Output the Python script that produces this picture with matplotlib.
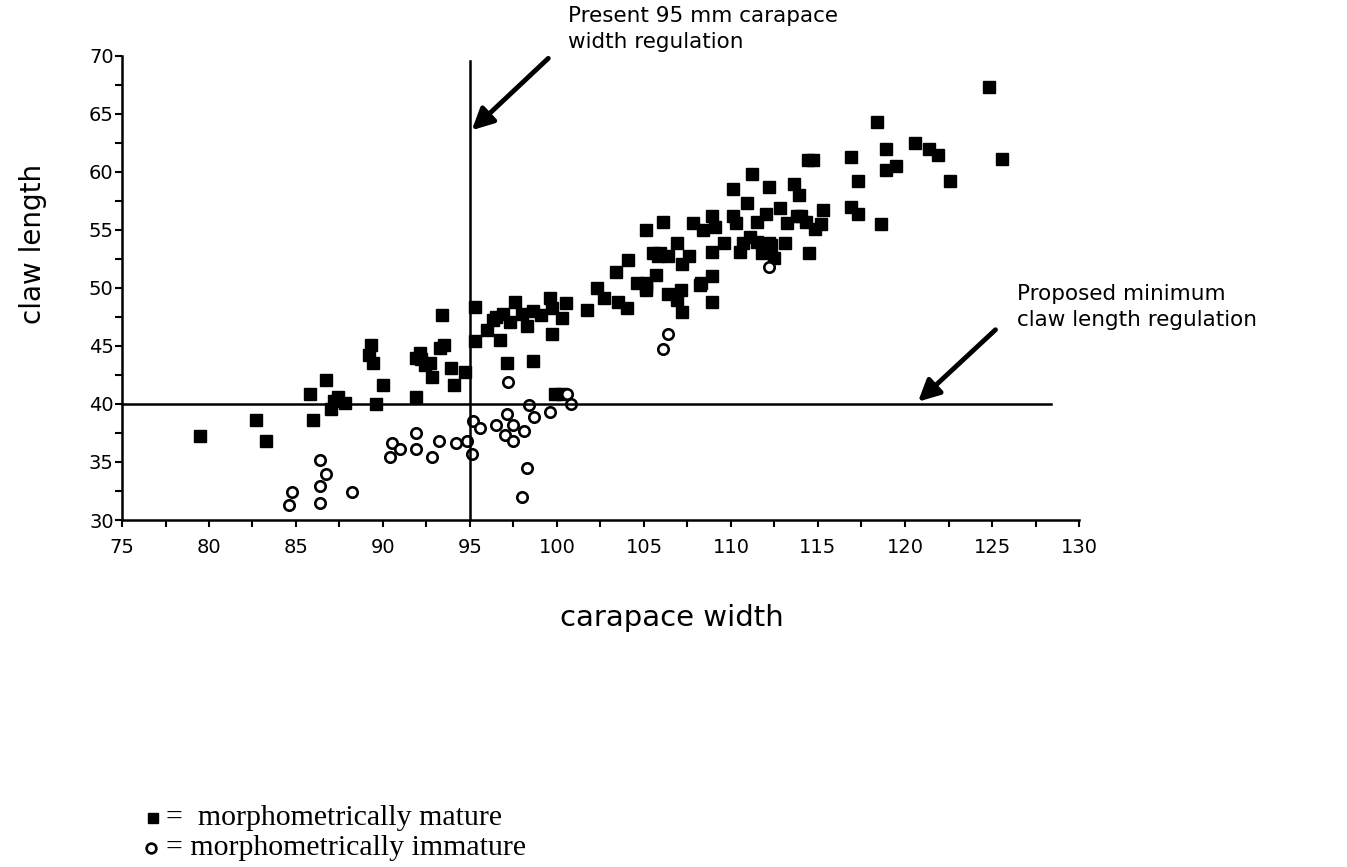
import matplotlib
matplotlib.use("Agg")
import matplotlib.pyplot as plt
from matplotlib.lines import Line2D
from matplotlib.ticker import MultipleLocator

# morphometrically mature crabs (carapace width, claw length)
mature_x = [79.5, 82.7, 83.3, 85.8, 86.0, 86.7, 87.0, 87.2, 87.4, 87.8,
            89.2, 89.3, 89.4, 89.6, 90.0, 91.9, 91.9, 92.1, 92.2, 92.4,
            92.7, 92.8, 93.3, 93.5, 93.4, 93.9, 94.1, 94.7, 95.3, 95.3,
            96.0, 96.3, 96.5, 96.9, 96.7, 97.1, 97.3, 97.6, 98.0, 98.3,
            98.6, 98.6, 99.1, 99.6, 99.7, 99.7, 99.9, 100.3, 100.3, 100.5,
            101.7, 102.3, 102.7, 103.4, 103.5, 104.0, 104.1, 104.6, 105.1, 105.1,
            105.1, 105.1, 105.5, 105.7, 105.8, 105.9, 106.1, 106.4, 106.4, 106.9,
            106.9, 107.1, 107.2, 107.2, 107.6, 107.8, 108.2, 108.3, 108.4, 108.9,
            108.9, 108.9, 108.9, 109.1, 109.6, 110.1, 110.1, 110.3, 110.5, 110.7,
            110.9, 111.1, 111.2, 111.5, 111.5, 111.8, 112.0, 112.2, 112.2, 112.3,
            112.5, 112.8, 113.1, 113.2, 113.6, 113.8, 113.9, 114.0, 114.3, 114.5,
            114.4, 114.8, 114.7, 115.2, 115.3, 116.9, 116.9, 117.3, 117.3, 118.4,
            118.6, 118.9, 118.9, 119.5, 120.6, 121.4, 121.9, 122.6, 124.8, 125.6]
mature_y = [37.2, 38.6, 36.8, 40.9, 38.6, 42.1, 39.6, 40.3, 40.6, 40.1,
            44.2, 45.1, 43.5, 40.0, 41.6, 40.6, 44.0, 44.4, 43.9, 43.4,
            43.5, 42.3, 44.8, 45.1, 47.7, 43.1, 41.6, 42.8, 45.4, 48.4,
            46.4, 47.2, 47.5, 47.8, 45.5, 43.5, 47.1, 48.8, 47.8, 46.7,
            48.0, 43.7, 47.7, 49.1, 48.3, 46.0, 40.9, 40.9, 47.4, 48.7,
            48.1, 50.0, 49.1, 51.4, 48.8, 48.3, 52.4, 50.4, 50.1, 50.4,
            49.8, 55.0, 53.0, 51.1, 52.8, 53.0, 55.7, 52.8, 49.5, 49.0,
            53.9, 49.8, 52.1, 47.9, 52.8, 55.6, 50.3, 50.4, 55.0, 53.1,
            51.0, 48.8, 56.2, 55.3, 53.9, 58.5, 56.2, 55.6, 53.1, 53.9,
            57.3, 54.4, 59.8, 54.0, 55.7, 53.0, 56.4, 58.7, 53.9, 53.7,
            52.6, 56.9, 53.9, 55.6, 59.0, 56.2, 58.0, 56.2, 55.7, 53.0,
            61.0, 55.1, 61.0, 55.5, 56.7, 61.3, 57.0, 56.4, 59.2, 64.3,
            55.5, 62.0, 60.2, 60.5, 62.5, 62.0, 61.5, 59.2, 67.3, 61.1]

# morphometrically immature crabs
immature_x = [84.6, 84.75, 86.4, 86.7, 86.4, 86.4, 88.2, 90.4, 90.5, 91.0,
              91.9, 91.9, 92.8, 93.2, 94.2, 94.8, 95.1, 95.2, 95.6, 96.5,
              97.0, 97.1, 97.2, 97.5, 97.5, 98.0, 98.1, 98.3, 98.4, 98.7,
              99.6, 100.6, 100.8, 106.1, 106.4, 112.2]
immature_y = [31.3, 32.4, 35.2, 34.0, 32.9, 31.5, 32.4, 35.4, 36.6, 36.1,
              37.5, 36.1, 35.4, 36.8, 36.6, 36.8, 35.7, 38.5, 37.9, 38.2,
              37.3, 39.1, 41.9, 38.2, 36.8, 32.0, 37.7, 34.5, 39.9, 38.9,
              39.3, 40.9, 40.0, 44.7, 46.0, 51.8]

# regulation limits
WIDTH_LIMIT = 95
CLAW_LIMIT = 40

W, H = 1347, 867
fig = plt.figure(figsize=(W / 100, H / 100), dpi=100)
ax = fig.add_axes([122 / W, 1 - 520 / H, (1079 - 122) / W, (520 - 56) / H])

ax.plot(mature_x, mature_y, 's', color='black', markersize=8.3, linestyle='none')
ax.plot(immature_x, immature_y, 'o', markerfacecolor='white', markeredgecolor='black',
        markeredgewidth=1.9, markersize=7.5, linestyle='none')

# regulation lines
ax.plot([WIDTH_LIMIT, WIDTH_LIMIT], [30, 69.6], color='black', lw=1.8, clip_on=False)
ax.plot([75, 128.4], [CLAW_LIMIT, CLAW_LIMIT], color='black', lw=1.8, clip_on=False)

ax.set_xlim(75, 130)
ax.set_ylim(30, 70)
ax.xaxis.set_major_locator(MultipleLocator(5))
ax.xaxis.set_minor_locator(MultipleLocator(2.5))
ax.yaxis.set_major_locator(MultipleLocator(5))
ax.yaxis.set_minor_locator(MultipleLocator(2.5))
for side in ['top', 'right']:
    ax.spines[side].set_visible(False)
for side in ['left', 'bottom']:
    ax.spines[side].set_linewidth(1.8)
ax.tick_params(axis='x', which='both', direction='out', length=5, width=1.5,
               labelsize=14, pad=8)
ax.tick_params(axis='y', which='both', direction='out', length=5, width=1.5,
               labelsize=14, pad=1)

# arrows pointing at the regulation lines
ax.annotate('', xy=(95.1, 63.6), xytext=(99.5, 69.8),
            arrowprops=dict(arrowstyle='-|>', lw=3.5, color='black', mutation_scale=32,
                            shrinkA=0, shrinkB=0), annotation_clip=False)
ax.annotate('', xy=(120.75, 40.2), xytext=(125.2, 46.4),
            arrowprops=dict(arrowstyle='-|>', lw=3.5, color='black', mutation_scale=32,
                            shrinkA=0, shrinkB=0), annotation_clip=False)

fig.text(568 / W, 1 - 6 / H, 'Present 95 mm carapace\nwidth regulation',
         fontsize=15.5, va='top', ha='left', linespacing=1.4)
fig.text(1017 / W, 1 - 284 / H, 'Proposed minimum\nclaw length regulation',
         fontsize=15.5, va='top', ha='left', linespacing=1.4)

# axis titles
fig.text(672 / W, 1 - 618 / H, 'carapace width', fontsize=21, ha='center', va='center')
fig.text(33 / W, 1 - 244 / H, 'claw length', fontsize=20, ha='center', va='center',
         rotation=90)

# key at the bottom
fig.add_artist(Line2D([153 / W], [1 - 818 / H], marker='s', color='black',
                      markersize=7, transform=fig.transFigure))
fig.add_artist(Line2D([151 / W], [1 - 848 / H], marker='o', markerfacecolor='white',
                      markeredgecolor='black', markeredgewidth=1.9, markersize=7,
                      transform=fig.transFigure))
fig.text(166 / W, 1 - 818 / H, '=  morphometrically mature', fontsize=21.5,
         family='Liberation Serif', va='center', ha='left')
fig.text(166 / W, 1 - 848 / H, '= morphometrically immature', fontsize=21.5,
         family='Liberation Serif', va='center', ha='left')

fig.savefig('out.png', dpi=100)
